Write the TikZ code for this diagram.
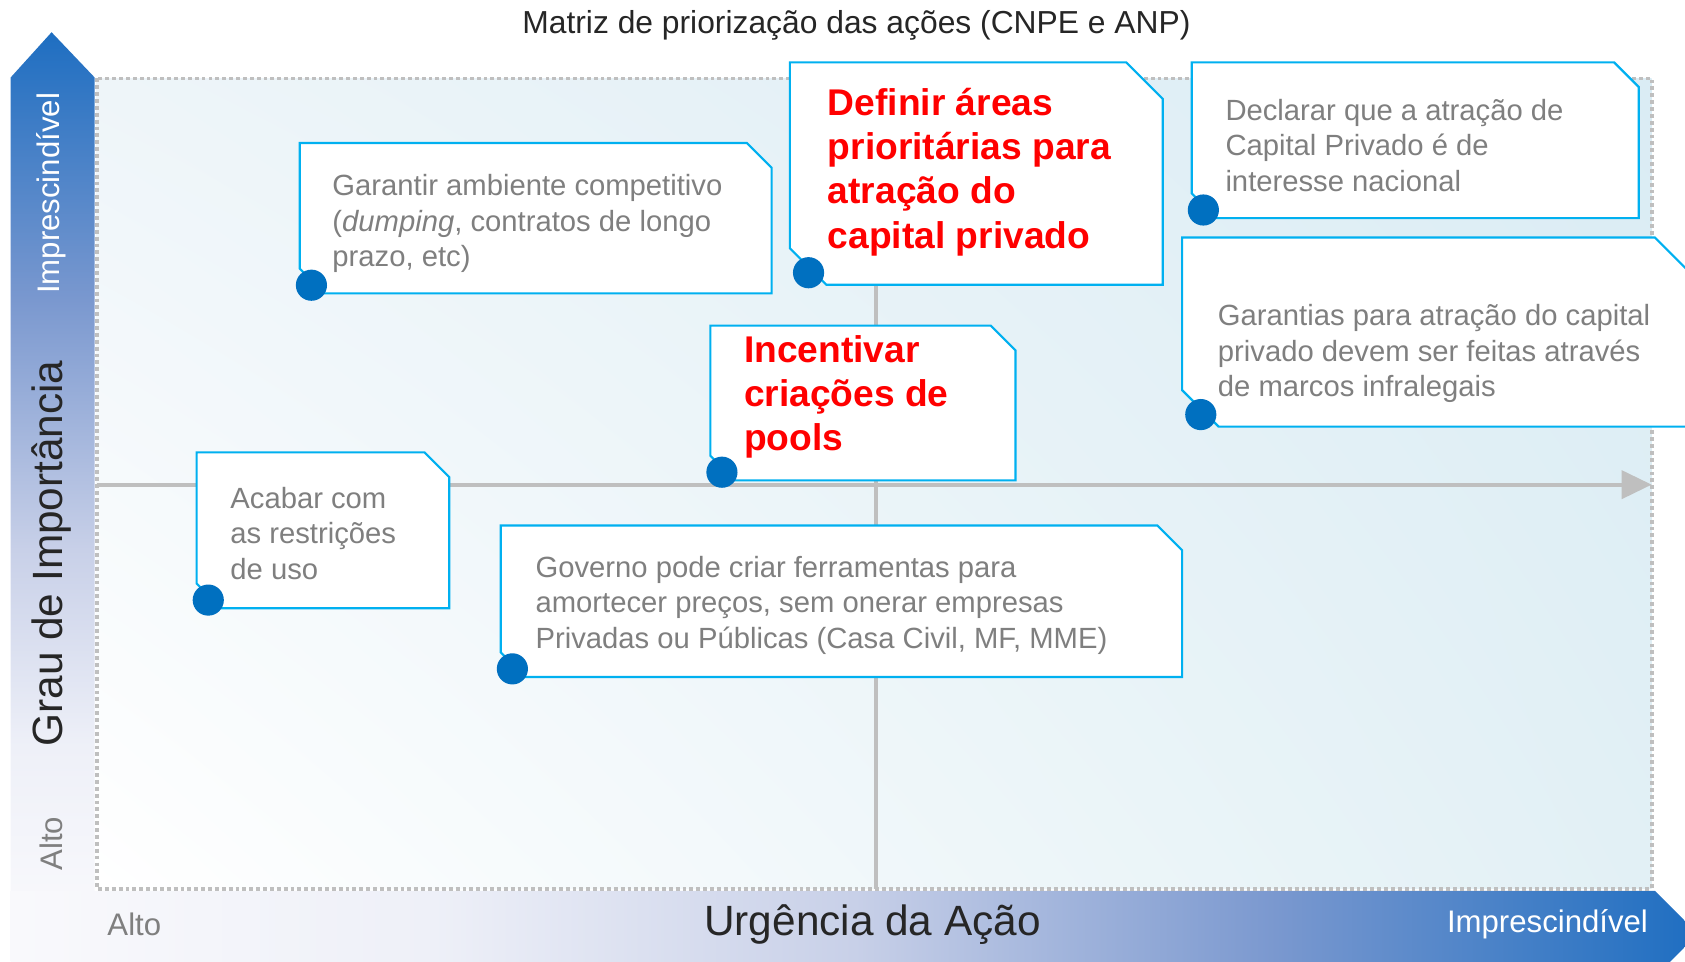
\documentclass[tikz,border=0pt]{standalone}
\usepackage{fontspec}
\setmainfont{Liberation Sans}
\usetikzlibrary{arrows.meta, positioning, shadings}
\definecolor{boxcyan}{RGB}{0,176,240}
\definecolor{dotblue}{RGB}{0,112,192}
\definecolor{txtgray}{RGB}{127,127,127}
\definecolor{txtdark}{RGB}{38,38,38}
\definecolor{axisgray}{RGB}{191,191,191}
\definecolor{arrowblue}{RGB}{30,110,193}
\definecolor{paleend}{RGB}{249,249,252}
\definecolor{bandlt}{RGB}{238,240,248}
\definecolor{bandlav}{RGB}{200,208,232}
\definecolor{bandmid}{RGB}{122,152,207}
\definecolor{bgtl}{RGB}{238,245,249}
\definecolor{bgtr}{RGB}{218,236,244}
\definecolor{bgbr}{RGB}{226,240,245}
\pgfdeclarehorizontalshading{bandshade}{100bp}{color(0bp)=(paleend);
  color(25bp)=(paleend); color(37.5bp)=(bandlt); color(50bp)=(bandlav);
  color(62.5bp)=(bandmid); color(75bp)=(arrowblue); color(100bp)=(arrowblue)}
\pgfdeclareverticalshading{colshade}{100bp}{color(0bp)=(paleend);
  color(25bp)=(paleend); color(35bp)=(bandlt); color(46bp)=(bandlav);
  color(60bp)=(bandmid); color(75bp)=(arrowblue); color(100bp)=(arrowblue)}

% callout: left, top, right, bottom, corner cut
\newcommand{\callout}[5]{%
  \filldraw[calloutbox] (#1,#2) -- ({#3-#5},#2) -- (#3,{#2+#5}) -- (#3,#4)
    -- ({#1+#5},#4) -- (#1,{#4-#5}) -- cycle;
  \fill[dotblue] ({#1+0.6*#5-3},{#4-0.33*#5}) circle (14.5);
}

\begin{document}
\begin{tikzpicture}[x=0.5pt, y=-0.5pt,
    calloutbox/.style={draw=boxcyan, fill=white, line width=1pt},
    graytext/.style={anchor=north west, inner sep=0pt, align=left, text=txtgray,
      font=\fontsize{13.6}{16.5}\selectfont},
    redtext/.style={anchor=north west, inner sep=0pt, align=left, text=red,
      font=\fontsize{17.3}{20.5}\selectfont\bfseries},
    axisline/.style={draw=axisgray, line width=2pt}]
  \useasboundingbox (0,0) rectangle (1568,895);

  % background and bands
  \shade[upper left=bgtl, upper right=bgtr, lower left=white, lower right=bgbr]
    (90,73) rectangle (1537,827);
  \shade[shading=colshade]
    (10,860) -- (10,72) -- (48,30) -- (88,72) -- (88,860) -- cycle;
  \shade[shading=bandshade]
    (10,829) -- (1540,829) -- (1580,869) -- (1540,909) -- (10,909) -- cycle;

  \draw[axisgray, line width=1.8pt, dash pattern=on 1.8pt off 1.4pt]
    (90,73) rectangle (1537,827);
  \draw[axisline] (815,73) -- (815,827);
  \draw[axisline, -{Triangle[length=14pt, width=13pt]}] (90,451) -- (1537,451);

  % labels
  \node[text=txtdark, font=\fontsize{14.8}{17}\selectfont] (title) at (797,24)
    {Matriz de priorização das ações (CNPE e ANP)};
  \begin{scope}[every node/.style={rotate=90}]
    \node[text=white, font=\fontsize{14.5}{17}\selectfont] (impV) at (48,180) {Imprescindível};
    \node[text=txtdark, font=\fontsize{19.7}{22}\selectfont] (grau) at (48,515) {Grau de Importância};
    \node[text=txtgray, font=\fontsize{14.5}{17}\selectfont] (altoV) at (48,785) {Alto};
  \end{scope}
  \node[text=txtgray, font=\fontsize{14.5}{17}\selectfont] (altoH) at (125,860) {Alto};
  \node[text=txtdark, font=\fontsize{19.7}{22}\selectfont] (urg) at (812,860) {Urgência da Ação};
  \node[text=white, font=\fontsize{14.5}{17}\selectfont] (impH) at (1440,860) {Imprescindível};

  % callouts
  \callout{279}{133}{718}{273}{23}
  \node[graytext] (ambiente) at (309,162)
    {Garantir ambiente competitivo\\(\textit{dumping}, contratos de longo\\prazo, etc)};

  \callout{735}{58}{1082}{265}{34}
  \node[redtext] (areas) at (770,82)
    {Definir áreas\\prioritárias para\\atração do\\capital privado};

  \callout{1109}{58}{1525}{203}{23}
  \node[graytext] (declarar) at (1140,92)
    {Declarar que a atração de\\Capital Privado é de\\interesse nacional};

  \callout{1100}{221}{1574}{397}{34}
  \node[graytext] (garantias) at (1133,283)
    {Garantias para atração do capital\\privado devem ser feitas através\\de marcos infralegais};

  \callout{661}{303}{945}{447}{23}
  \node[redtext] (pools) at (692,312)
    {Incentivar\\criações de\\pools};

  \callout{183}{421}{418}{566}{23}
  \node[graytext] (acabar) at (214,453)
    {Acabar com\\as restrições\\de uso};

  \callout{466}{489}{1100}{630}{23}
  \node[graytext] (governo) at (498,517)
    {Governo pode criar ferramentas para\\amortecer preços, sem onerar empresas\\Privadas ou Públicas (Casa Civil, MF, MME)};
\end{tikzpicture}
\end{document}
